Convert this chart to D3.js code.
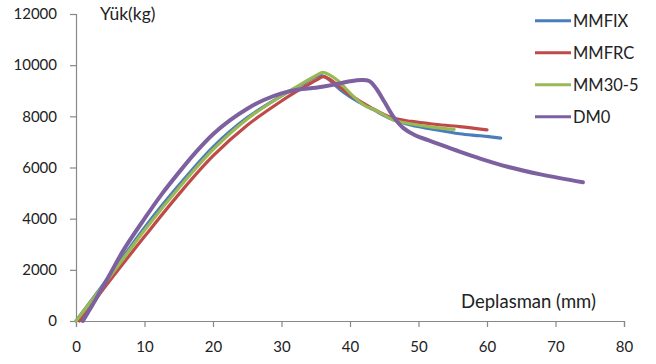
<!DOCTYPE html>
<html>
<head>
<meta charset="utf-8">
<script src="https://cdn.jsdelivr.net/npm/d3@7"></script>
<style>
  body { margin: 0; background: #fff; }
  svg { display: block; }
  text { font-family: Lato, "Noto Sans", sans-serif; fill: #222; }
  .axis path, .axis line { stroke: #888; stroke-width: 1.2; }
  .axis text { font-size: 15px; fill: #222; }
</style>
</head>
<body>
<div id="chart"></div>
<script>
// series names and colours
const seriesNames = ["MMFIX", "MMFRC", "MM30-5", "DM0"];
const seriesColors = ["#4A7EBB", "#BE4B48", "#98B954", "#7D60A0"];

// tick values
const xTicks = [0, 10, 20, 30, 40, 50, 60, 70, 80];
const yTicks = [0, 2000, 4000, 6000, 8000, 10000, 12000];

// [deplasman mm, yük kg]
const mmfix = [[0,0],[5,1800],[10,3650],[15,5300],[20,6800],[25,7950],[30,8800],[33,9250],[35.3,9580],[36.3,9550],[37.5,9300],[39,8950],[41,8600],[43.5,8250],[46,7900],[49,7650],[52,7500],[56,7320],[59,7240],[62,7150]];
const mmfrc = [[0.5,0],[5,1600],[10,3300],[15,4950],[20,6450],[25,7650],[30,8600],[33,9100],[35.3,9450],[36.1,9550],[37,9450],[38.5,9150],[40.5,8750],[43,8350],[46,7950],[49,7800],[52,7700],[56,7600],[60,7470]];
const mm305 = [[0,0],[5,1750],[10,3550],[15,5200],[20,6700],[25,7900],[30,8800],[33,9280],[35.2,9620],[36,9720],[37,9620],[38.2,9400],[40.5,8780],[42,8450],[44,8200],[46.3,7860],[49,7700],[52,7580],[55.2,7490]];
const dm0 = [[1,0],[3,900],[5,1850],[7,2800],[10,4000],[12.5,4950],[15,5800],[17.5,6600],[20,7300],[22.5,7850],[25,8300],[27.5,8650],[30,8900],[32.5,9050],[35,9120],[37.5,9230],[40,9370],[41.7,9420],[42.8,9380],[43.8,9100],[45,8580],[46.3,8000],[47.8,7540],[49.5,7260],[51.5,7060],[53.5,6860],[56,6620],[59,6350],[63,6030],[68,5720],[74,5420]];

const allSeries = [mmfix, mmfrc, mm305, dm0];

const W = 656, H = 364;
const margin = {top: 14, right: 32, bottom: 43, left: 76};
const width = W - margin.left - margin.right;
const height = H - margin.top - margin.bottom;

const svg = d3.select("#chart")
  .append("svg")
    .attr("width", W)
    .attr("height", H);

const g = svg.append("g")
    .attr("transform", "translate(" + margin.left + "," + margin.top + ")");

const xScale = d3.scaleLinear().domain([0, 80]).range([0, width]);
const yScale = d3.scaleLinear().domain([0, 12000]).range([height, 0]);

// axes
g.append("g")
    .attr("class", "axis")
    .attr("transform", "translate(0," + height + ")")
  .call(d3.axisBottom(xScale).tickValues(xTicks).tickSizeOuter(0).tickSize(6).tickPadding(14));

g.append("g")
    .attr("class", "axis")
  .call(d3.axisLeft(yScale).tickValues(yTicks).tickSizeOuter(0).tickSize(6).tickPadding(13).tickFormat(d3.format("d")));

// curves
const line = d3.line()
    .x(function(d) { return xScale(d[0]); })
    .y(function(d) { return yScale(d[1]); })
    .curve(d3.curveCatmullRom.alpha(0.5));

g.selectAll(".curve")
  .data(allSeries)
  .enter()
  .append("path")
    .attr("class", "curve")
    .attr("fill", "none")
    .attr("stroke", function(d, i) { return seriesColors[i]; })
    .attr("stroke-width", function(d, i) { return i === 3 ? 4 : 3.2; })
    .attr("stroke-linejoin", "round")
    .attr("stroke-linecap", "round")
    .attr("d", line);

// axis titles
svg.append("text")
    .attr("x", 100)
    .attr("y", 20)
    .style("font-size", "17.5px")
    .text("Yük(kg)");

svg.append("text")
    .attr("x", 461)
    .attr("y", 308)
    .style("font-size", "18.5px")
    .text("Deplasman (mm)");

// legend
const legend = svg.selectAll(".legend")
  .data(seriesNames)
  .enter()
  .append("g")
    .attr("class", "legend")
    .attr("transform", function(d, i) { return "translate(535," + (20.7 + i * 32) + ")"; });

legend.append("line")
    .attr("x1", 0).attr("x2", 36)
    .attr("stroke", function(d, i) { return seriesColors[i]; })
    .attr("stroke-width", 3);

legend.append("text")
    .attr("x", 38)
    .attr("dy", "0.36em")
    .style("font-size", "16.5px")
    .text(function(d) { return d; });
</script>
</body>
</html>
